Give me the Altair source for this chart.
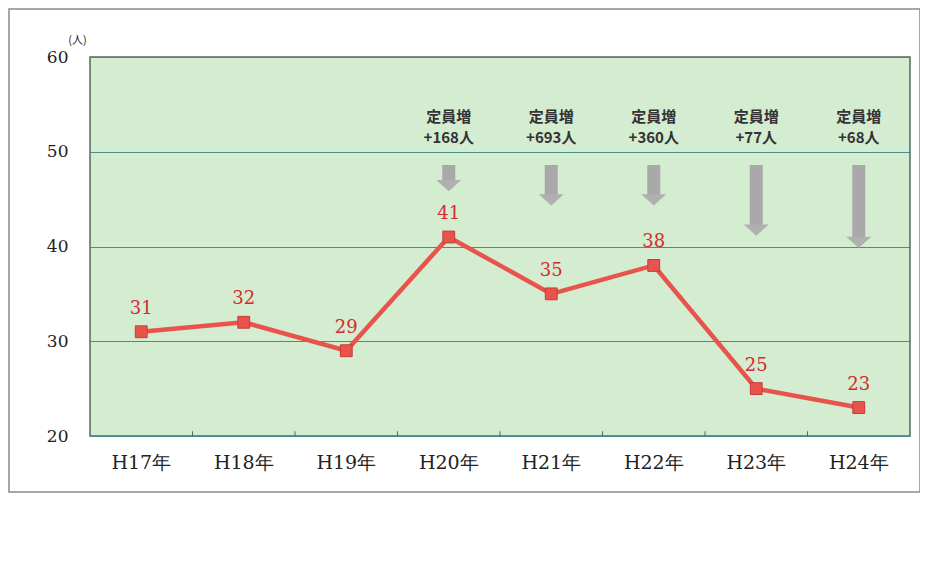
import altair as alt
import pandas as pd

# ---- data ----
years = ["H17年", "H18年", "H19年", "H20年", "H21年", "H22年", "H23年", "H24年"]
counts = [31, 32, 29, 41, 35, 38, 25, 23]

ann_years = ["H20年", "H21年", "H22年", "H23年", "H24年"]
ann_line1 = ["定員増", "定員増", "定員増", "定員増", "定員増"]
ann_line2 = ["+168人", "+693人", "+360人", "+77人", "+68人"]
arrow_start = [48.6, 48.6, 48.6, 48.6, 48.6]
arrow_end = [45.9, 44.4, 44.4, 41.2, 39.9]

y_ticks = [20, 30, 40, 50, 60]
boundary_years = years[1:]

df = pd.DataFrame({"year": years, "count": counts})
ann = pd.DataFrame({"year": ann_years, "l1": ann_line1, "l2": ann_line2,
                    "top": arrow_start, "tip": arrow_end})
ann["shaft_end"] = ann["tip"] + 0.9
bnd = pd.DataFrame({"year": boundary_years})

LINE_RED = "#e8544c"
LABEL_RED = "#d42a2e"
SERIF = "DejaVu Serif"
CJK = "Noto Sans CJK JP"

xscale = alt.Scale(domain=years, type="band", paddingInner=0, paddingOuter=0)
xaxis = alt.Axis(title=None, ticks=False, domain=False, grid=False,
                 bandPosition=0.5,
                 labelAngle=0, labelPadding=17, labelFont=SERIF,
                 labelFontSize=19, labelColor="#222")
x_enc = alt.X("year:N", sort=years, scale=xscale, axis=xaxis)
y_enc = alt.Y("count:Q", scale=alt.Scale(domain=[20, 60], nice=False, zero=False),
              axis=alt.Axis(values=y_ticks, title="(人)", titleAngle=0, titleX=-13,
                            titleY=-17, titleAlign="center", titleBaseline="middle",
                            titleFont=CJK, titleFontSize=11, titleFontWeight="normal",
                            titleColor="#222", ticks=False, domain=False, grid=True,
                            gridColor="#4a8c8e", gridWidth=1, labelPadding=22,
                            labelFont=SERIF, labelFontSize=17, labelColor="#222"))

base = alt.Chart(df)

line = base.mark_line(color=LINE_RED, strokeWidth=4.5).encode(x=x_enc, y=y_enc)
pts = base.mark_square(size=140, filled=True, color=LINE_RED, stroke="#c83a3a",
                       strokeWidth=1, opacity=1).encode(x=x_enc, y=y_enc)
vals = base.mark_text(dy=-23, font=SERIF, fontSize=18, color=LABEL_RED).encode(
    x=x_enc, y=y_enc, text="count:Q")

ticks = alt.Chart(bnd).mark_rule(color="#56675c", strokeWidth=1).encode(
    x=alt.X("year:N", sort=years, scale=xscale, bandPosition=0, axis=xaxis),
    y=alt.Y(datum=20), y2=alt.Y2(datum=20.5))

shafts = alt.Chart(ann).mark_bar(width=13, color="#a9a9a9").encode(
    x=x_enc, y=alt.Y("top:Q"), y2="shaft_end:Q")
heads = alt.Chart(ann).mark_point(
    shape="M -1 -0.45 L 1 -0.45 L 0 0.45 Z", size=620, filled=True,
    color="#b0b0b0", opacity=1, yOffset=-5).encode(
    x=x_enc, y=alt.Y("tip:Q"))

t1 = alt.Chart(ann).mark_text(font=CJK, fontSize=15, fontWeight="bold",
                              color="#333333").encode(
    x=x_enc, y=alt.Y(datum=53.7), text="l1:N")
t2 = alt.Chart(ann).mark_text(font=CJK, fontSize=15, fontWeight="bold",
                              color="#333333").encode(
    x=x_enc, y=alt.Y(datum=51.5), text="l2:N")

frame = alt.Chart(pd.DataFrame({"a": [0]})).mark_rect(
    fill="transparent", stroke="#8a8a8a", strokeWidth=1.5).encode(
    x=alt.value(-81), x2=alt.value(830), y=alt.value(-48), y2=alt.value(435))

chart = alt.layer(line, frame, ticks, shafts, heads, t1, t2, pts, vals).properties(
    width=820, height=379,
    autosize=alt.AutoSizeParams(type="none"),
    padding={"left": 82, "top": 49, "right": 10, "bottom": 130},
    background="white",
).configure_view(fill="#d4ecd0", stroke="#56675c", strokeWidth=1.5)

chart.save("out.html", embed_options={"renderer": "svg", "actions": False})
